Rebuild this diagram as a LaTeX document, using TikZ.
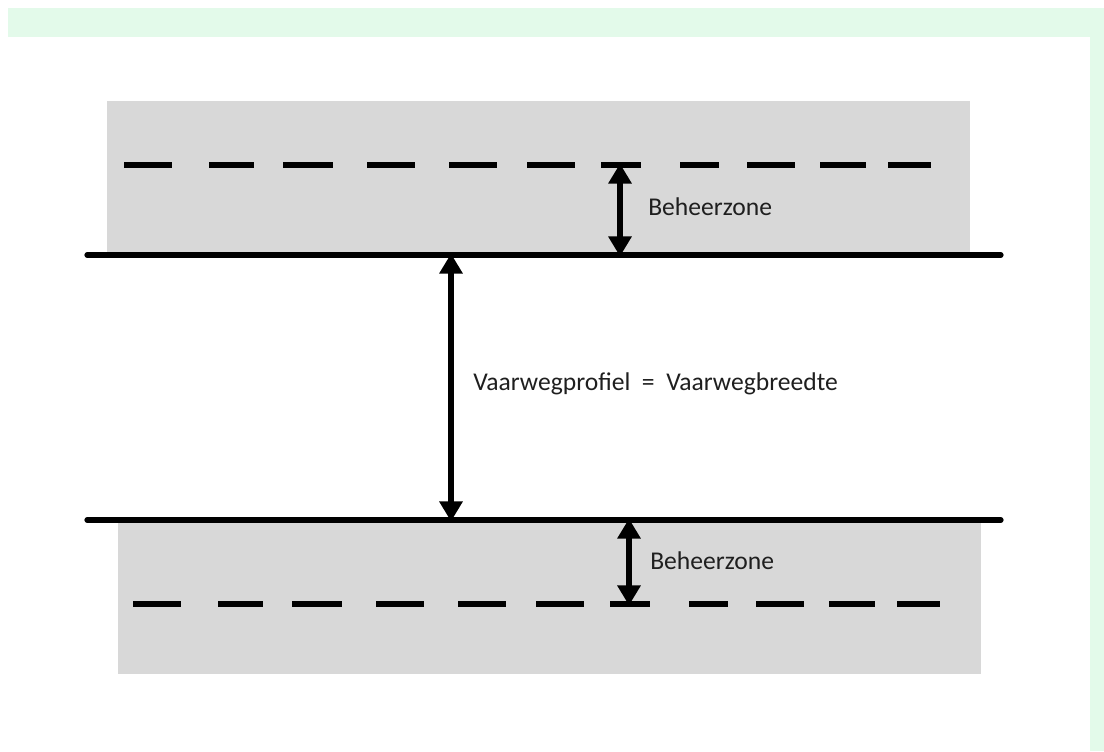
\documentclass[tikz,border=0pt]{standalone}
\usepackage{fontspec}
\setmainfont{Carlito}
\usetikzlibrary{arrows.meta}
\definecolor{mintband}{RGB}{227,250,234}
\definecolor{zonegrey}{RGB}{216,216,216}
\tikzset{
    oever/.style={line width=0.13cm, line cap=round},
    streep/.style={line width=0.13cm, line cap=butt, line join=round},
    maat/.style={line width=0.15cm, {Triangle[width=0.56cm,length=0.5cm]}-{Triangle[width=0.56cm,length=0.5cm]}, shorten <=-1pt, shorten >=-1pt},
    label/.style={inner sep=0pt, anchor=base west, font=\fontsize{18.2}{20}\selectfont, text=black!88}
}

\begin{document}
\begin{tikzpicture}[x=0.025cm, y=-0.025cm]
    \useasboundingbox (0,0) rectangle (1104,751);
    % achtergrond
    \fill[mintband] (8,8) rectangle (1104,37);
    \fill[mintband] (1090,37) rectangle (1104,751);
    \fill[zonegrey] (107,101) rectangle (970,255);
    \fill[zonegrey] (118,520) rectangle (981,674);

    % onderhoudsgrenzen (streeplijnen)
    \foreach \a/\b in {124/172, 209/254, 283/333, 367/415, 449/497, 527/575, 601/641, 680/719, 747/795, 820/866, 888/931} {
        \draw[streep] (\a,165) -- (\b,165);
        \draw[streep] (\a+9,604) -- (\b+9,604);
    }

    % oeverlijnen
    \coordinate (ltop) at (87,255);
    \coordinate (rtop) at (1001,255);
    \coordinate (lbot) at (87,520);
    \coordinate (rbot) at (1001,520);
    \draw[oever] (ltop) -- (rtop);
    \draw[oever] (lbot) -- (rbot);

    % maatpijlen
    \coordinate (zt1) at (620,165);
    \coordinate (zt2) at (620,255);
    \coordinate (pr1) at (451,255);
    \coordinate (pr2) at (451,520);
    \coordinate (zb1) at (629,520);
    \coordinate (zb2) at (629,604);
    \draw[maat] (zt1) -- (zt2);
    \draw[maat] (pr1) -- (pr2);
    \draw[maat] (zb1) -- (zb2);

    \node[label] (zonetop) at (648,215) {Beheerzone};
    \node[label] (profiel) at (473,390) {Vaarwegprof{}iel\ \ =\ \ Vaarwegbreedte};
    \node[label] (zonebot) at (650,569) {Beheerzone};
\end{tikzpicture}
\end{document}
